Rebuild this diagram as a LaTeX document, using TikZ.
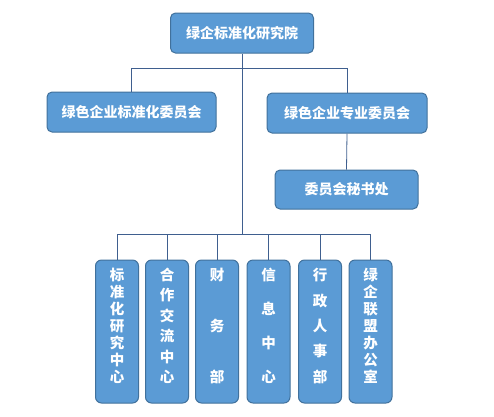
\documentclass[tikz,border=0pt]{standalone}
\usepackage{fontspec}
\usetikzlibrary{calc}
\newfontfamily\cjk{Noto Sans CJK SC}
\definecolor{boxfill}{HTML}{5B9BD5}
\definecolor{boxline}{HTML}{41719C}
\definecolor{linkcol}{HTML}{3F5F8F}

\begin{document}
\begin{tikzpicture}[
    x=1pt, y=-1pt,
    unit/.style={draw=boxline, fill=boxfill, line width=1pt, rounded corners=5pt,
                 text=white, font=\cjk\bfseries\fontsize{14}{16}\selectfont, inner sep=0pt},
    dept/.style={unit, minimum width=43pt, minimum height=143pt, rounded corners=6pt},
    vchar/.style={text=white, font=\cjk\bfseries\fontsize{14.5}{16}\selectfont, inner sep=0pt},
    link/.style={draw=linkcol, line width=0.8pt}
]
\useasboundingbox (0,0) rectangle (494,416);

% Top
\node[unit, minimum width=143pt, minimum height=40pt] (top) at (242,33) {绿企标准化研究院};

% Committees
\node[unit, minimum width=169pt, minimum height=40pt] (c1) at (131.5,112) {绿色企业标准化委员会};
\node[unit, minimum width=160pt, minimum height=40pt] (c2) at (347,113) {绿色企业专业委员会};
\node[unit, minimum width=143pt, minimum height=39pt] (sec) at (346.5,189.5) {委员会秘书处};

\coordinate (hub) at (242,68);
\coordinate (bus) at (242,234);
\draw[link] (top.south) -- (bus);
\draw[link] (c1.north) |- (hub);
\draw[link] (c2.north) |- (hub);
\draw[link] (c2.south) -- (sec.north);

% Departments
\foreach \i/\x/\n/\txt in {
    1/117/7/{标,准,化,研,究,中,心},
    2/167/6/{合,作,交,流,中,心},
    3/217/3/{财,务,部},
    4/268.5/4/{信,息,中,心},
    5/320/5/{行,政,人,事,部},
    6/370.5/7/{绿,企,联,盟,办,公,室}} {
  \node[dept] (d\i) at (\x,331.5) {};
  \foreach \c [count=\k from 0] in \txt
    \node[vchar] (d\i-\k) at (\x,{275+\k*102/(\n-1)}) {\c};
  \draw[link] (d\i.north) |- (bus);
}

\end{tikzpicture}
\end{document}
